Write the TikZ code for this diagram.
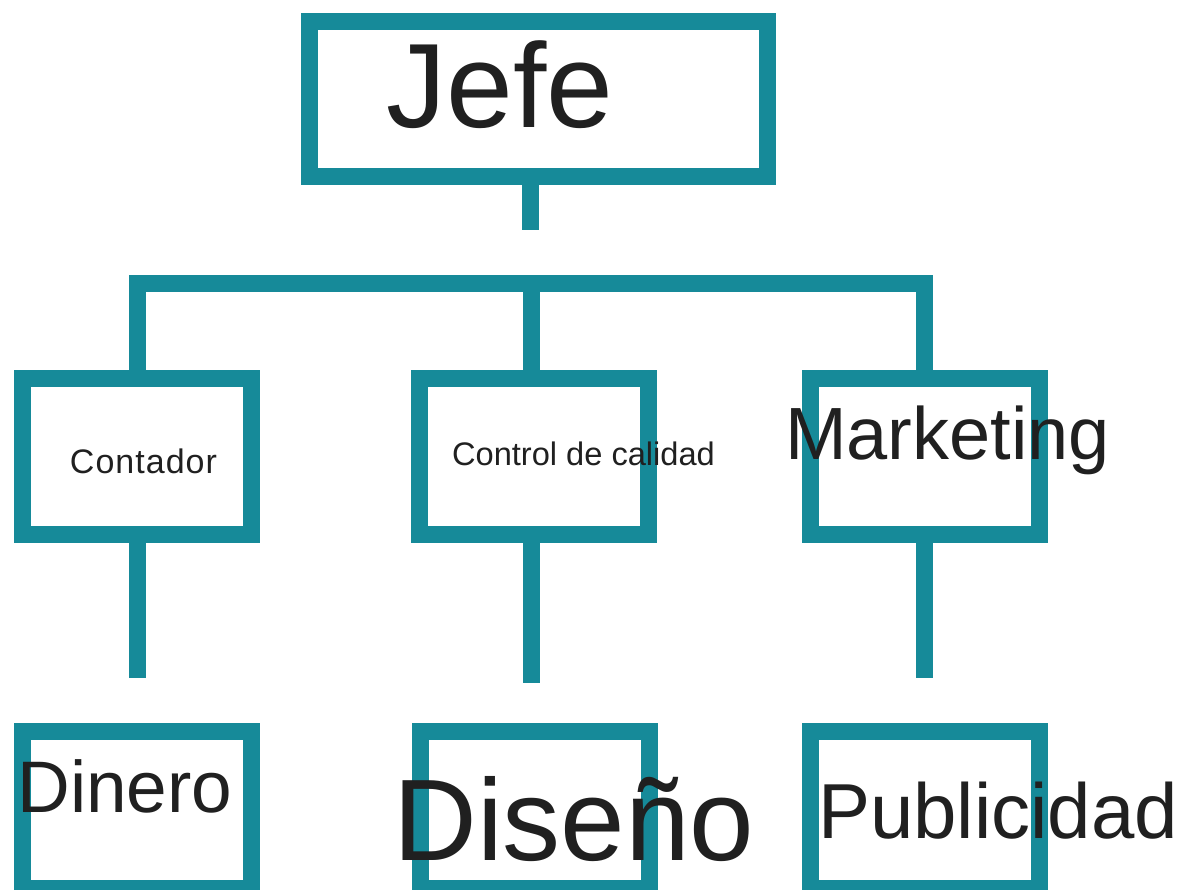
\documentclass[tikz,border=0pt]{standalone}
\usepackage{fontspec}
\setmainfont{Liberation Sans}
\definecolor{teal1}{RGB}{22,138,153}
\definecolor{ink}{RGB}{32,32,32}
\begin{document}
\begin{tikzpicture}[x=1pt,y=-1pt,
  box/.style={draw=teal1,line width=17pt,rectangle,inner sep=0pt,minimum width=229pt,minimum height=156pt},
  link/.style={draw=teal1,line width=17pt,line join=miter},
  lbl/.style={anchor=base,inner sep=0pt,text=ink},
]
\useasboundingbox (0,0) rectangle (1197,890);
\fill[white] (0,0) rectangle (1197,890);
\clip (0,0) rectangle (1197,890);
% boxes
\node[box,minimum width=458.5pt,minimum height=155pt] (jefe) at (538.25,99) {};
\node[box] (contador) at (137,456.5) {};
\node[box] (control) at (534,456.5) {};
\node[box] (marketing) at (924.5,456.5) {};
\node[box,minimum height=157pt] (dinero) at (137,810) {};
\node[box,minimum height=157pt] (diseno) at (534.5,810) {};
\node[box,minimum height=157pt] (publicidad) at (925,810) {};
% free ends
\coordinate (jefeend) at (530.5,230);
\coordinate (cend) at (137,678);
\coordinate (qend) at (531,683);
\coordinate (mend) at (924.5,678);
\coordinate (barl) at (137,283.5);
\coordinate (barq) at (531,283.5);
% connectors
\draw[link] (jefe.south -| jefeend) -- (jefeend);
\draw[link] (contador.north) -- (barl) -| (marketing.north);
\draw[link] (barq) -- (control.north -| barq);
\draw[link] (contador.south) -- (cend);
\draw[link] (control.south -| qend) -- (qend);
\draw[link] (marketing.south) -- (mend);
% labels
\node[lbl,font=\addfontfeature{LetterSpace=3}\fontsize{34}{40}\selectfont] (tcont) at (143.5,473) {Contador};
\node[lbl,font=\fontsize{120}{140}\selectfont] (tjefe) at (500,128) {Jefe};
\node[lbl,font=\fontsize{32.6}{38}\selectfont] (tctrl) at (583.5,465) {Control de calidad};
\node[lbl,font=\fontsize{74}{88}\selectfont] (tmkt) at (947.5,460) {Marketing};
\node[lbl,font=\fontsize{73}{88}\selectfont] (tdin) at (125,812) {Dinero};
\node[lbl,font=\fontsize{116}{140}\selectfont] (tdis) at (574,860) {Diseño};
\node[lbl,font=\fontsize{78}{94}\selectfont] (tpub) at (998,838) {Publicidad};
\end{tikzpicture}
\end{document}
